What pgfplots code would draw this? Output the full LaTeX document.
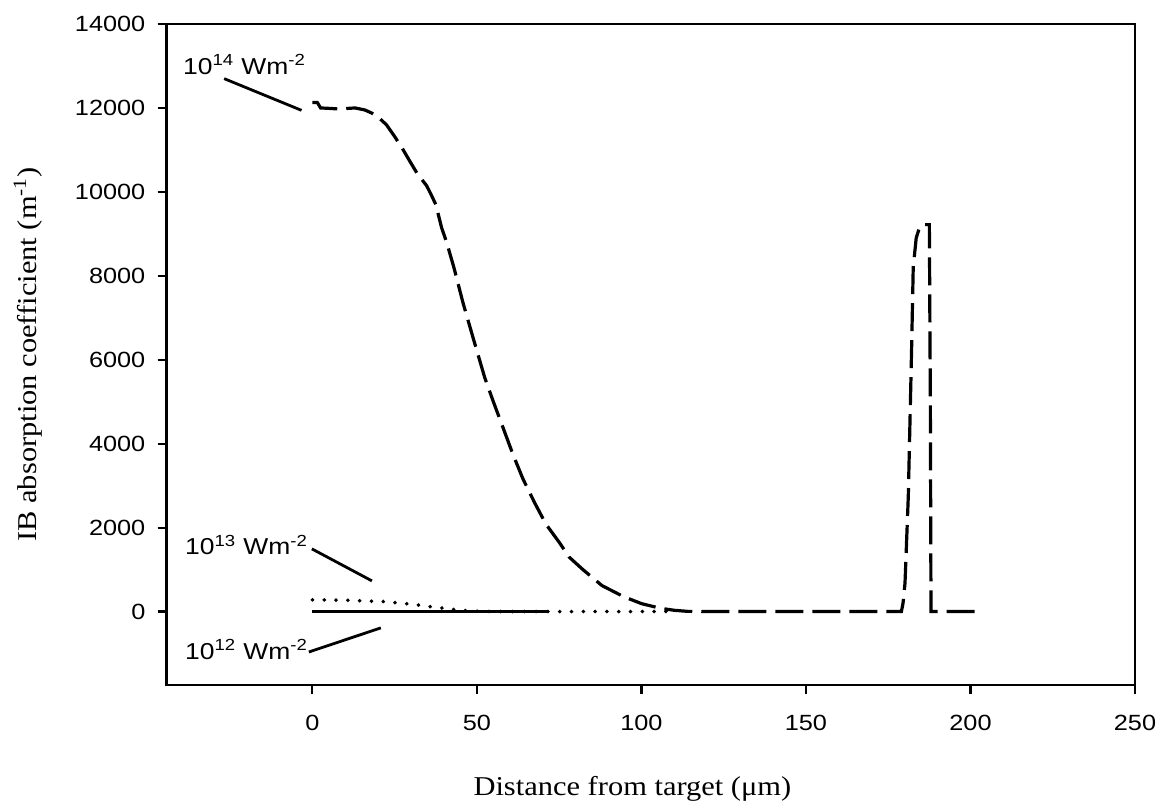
\documentclass[border=0pt]{standalone}
\usepackage{fontspec}
\setmainfont{Liberation Serif}[FakeStretch=1.12]
\newfontfamily\arialf{Liberation Sans}[FakeStretch=1.15]
\usepackage{pgfplots}
\pgfplotsset{compat=1.18}

\pgfplotstableread{
x y
0 12130
1.5 12130
2.5 12000
5 11990
8 11975
13 12000
16 11950
18 11880
20 11780
22.5 11600
25 11320
27.6 11000
30 10680
32 10420
34.7 10150
36 9950
37.5 9700
39.3 9140
40.8 8800
43 8200
45.8 7350
49 6480
52.4 5570
55 5000
58 4370
61 3735
64 3160
67.6 2584
71 2080
75.2 1630
78 1300
82.3 994
88 620
94.5 358
100 190
105.6 81
110 30
114 5
120 0
179 0
179.5 200
180.1 677
181.1 2741
182.1 6238
182.6 8200
183.5 8900
184.5 9150
185.3 9220
187.5 9220
187.8 5000
188 0
202 0
}\dataA

\pgfplotstableread{
x y
0 280
10 270
21.5 238
27 200
31.7 160
36 115
39.8 81
44 40
48 15
52 5
60 0
110 0
}\dataB

\pgfplotstableread{
x y
0 0
72 0
}\dataC

\begin{document}
\begin{tikzpicture}
\useasboundingbox (-83.3pt,-60pt) rectangle (499.2pt,342.5pt);
\begin{axis}[
  scale only axis, width=484.2pt, height=330.5pt,
  xmin=-44.3, xmax=250, ymin=-1750, ymax=14000,
  xtick={0,50,...,250}, ytick={0,2000,...,14000},
  tick pos=left, tick align=outside, major tick length=4.5pt,
  axis line style={line width=1.3pt},
  tick style={line width=1.1pt, black},
  scaled ticks=false,
  /pgf/number format/assume math mode=true,
  /pgf/number format/1000 sep={},
  ticklabel style={font=\arialf\fontsize{11}{13}\selectfont},
  xticklabel style={yshift=-7pt},
  yticklabel style={xshift=-2.6pt},
  xlabel={Distance from target (μm)},
  ylabel={IB absorption coefficient (m\textsuperscript{-1})},
  label style={font=\fontsize{13.6}{16}\selectfont},
  xlabel style={at={(axis description cs:0.481,-0.1664)}, anchor=base},
  ylabel style={at={(axis description cs:-0.1342,0.5)}, anchor=base, rotate=0},
]
\addplot[black, line width=1.6pt, dash pattern=on 14pt off 4.5pt] table[x=x,y=y] {\dataA};
\addplot[black, line width=1.9pt, line cap=round, dash pattern=on 0.1pt off 5.8pt] table[x=x,y=y] {\dataB};
\addplot[black, line width=1.5pt] table[x=x,y=y] {\dataC};

\draw[line width=1.4pt] (axis cs:-26.8,12698) -- (axis cs:-3.3,11943);
\draw[line width=1.4pt] (axis cs:-0.15,1494) -- (axis cs:18.1,731);
\draw[line width=1.4pt] (axis cs:-1.06,-963) -- (axis cs:20.8,-389);

\node[anchor=base west, inner sep=0pt, font=\arialf\fontsize{11.5}{13}\selectfont] at (axis cs:-39.4,12794) {10\textsuperscript{14} Wm\textsuperscript{-2}};
\node[anchor=base west, inner sep=0pt, font=\arialf\fontsize{11.5}{13}\selectfont] at (axis cs:-38.8,1351) {10\textsuperscript{13} Wm\textsuperscript{-2}};
\node[anchor=base west, inner sep=0pt, font=\arialf\fontsize{11.5}{13}\selectfont] at (axis cs:-38.8,-1135) {10\textsuperscript{12} Wm\textsuperscript{-2}};
\end{axis}
\end{tikzpicture}
\end{document}
